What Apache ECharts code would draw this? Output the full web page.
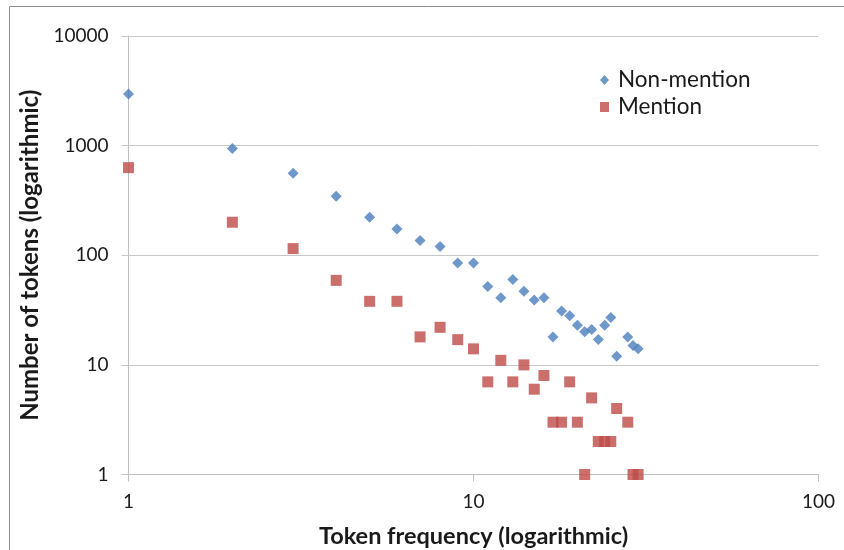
<!DOCTYPE html>
<html>
<head>
<meta charset="utf-8">
<script src="https://cdn.jsdelivr.net/npm/echarts@6/dist/echarts.min.js"></script>
<style>
  html, body { margin: 0; padding: 0; background: #ffffff; }
  #chart { width: 844px; height: 550px; }
</style>
</head>
<body>
<div id="chart"></div>
<script>
// Token frequency (x) against number of tokens (y), both on log scales
const freqNonMention = [1, 2, 3, 4, 5, 6, 7, 8, 9, 10, 11, 12, 13, 14, 15, 16, 17, 18, 19, 20, 21, 22, 23, 24, 25, 26, 28, 29, 30];
const countNonMention = [2950, 940, 560, 345, 222, 174, 136, 120, 85, 85, 52, 41, 60, 47, 39, 41, 18, 31, 28, 23, 20, 21, 17, 23, 27, 12, 18, 15, 14];

const freqMention = [1, 2, 3, 4, 5, 6, 7, 8, 9, 10, 11, 12, 13, 14, 15, 16, 17, 18, 19, 20, 21, 22, 23, 24, 25, 26, 28, 29, 30];
const countMention = [630, 200, 115, 59, 38, 38, 18, 22, 17, 14, 7, 11, 7, 10, 6, 8, 3, 3, 7, 3, 1, 5, 2, 2, 2, 4, 3, 1, 1];

const seriesNames = ['Non-mention', 'Mention'];
const xTickLabels = ['1', '10', '100'];
const yTickLabels = ['1', '10', '100', '1000', '10000'];
const xTitle = 'Token frequency (logarithmic)';
const yTitle = 'Number of tokens (logarithmic)';

const FONT = 'Lato, "Open Sans", sans-serif';
const BLUE = '#4A7EBB';
const RED = '#BE4B48';

function pairs(xs, ys) {
  return xs.map((x, i) => [x, ys[i]]);
}

function tickText(labels) {
  return (v) => {
    const idx = Math.round(Math.log10(v));
    return labels[idx] !== undefined ? labels[idx] : '';
  };
}

const chart = echarts.init(document.getElementById('chart'), null, { renderer: 'canvas' });

chart.setOption({
  animation: false,
  backgroundColor: '#ffffff',
  textStyle: { fontFamily: FONT },
  grid: { left: 128.5, right: 25.5, top: 36, bottom: 75.5, containLabel: false, outerBoundsMode: 'none' },
  graphic: [{
    type: 'rect',
    shape: { x: 9.5, y: 6.5, width: 900, height: 600 },
    style: { fill: 'none', stroke: '#8c8c8c', lineWidth: 1 },
    silent: true
  }],
  legend: {
    orient: 'vertical',
    left: 600,
    top: 68.5,
    padding: 0,
    itemWidth: 9,
    itemHeight: 10,
    itemGap: 4,
    data: [
      { name: seriesNames[0], icon: 'diamond' },
      { name: seriesNames[1], icon: 'rect' }
    ],
    textStyle: { fontFamily: FONT, fontSize: 22.5, color: '#1a1a1a', lineHeight: 23, padding: [0, 0, 0, 4] }
  },
  xAxis: {
    type: 'log',
    logBase: 10,
    min: 1,
    max: 100,
    name: xTitle,
    nameLocation: 'middle',
    nameGap: 50,
    nameTextStyle: { fontFamily: FONT, fontSize: 23.5, fontWeight: 'bold', color: '#1a1a1a' },
    axisLine: { show: true, lineStyle: { color: '#bfbfbf', width: 1 } },
    axisTick: { show: true, length: 7, lineStyle: { color: '#bfbfbf' } },
    axisLabel: { formatter: tickText(xTickLabels), fontFamily: FONT, fontSize: 19, color: '#1a1a1a', margin: 18 },
    splitLine: { show: false },
    minorTick: { show: false }
  },
  yAxis: {
    type: 'log',
    logBase: 10,
    min: 1,
    max: 10000,
    name: yTitle,
    nameLocation: 'middle',
    nameGap: 76,
    nameTextStyle: { fontFamily: FONT, fontSize: 24, fontWeight: 'bold', color: '#1a1a1a' },
    axisLine: { show: true, lineStyle: { color: '#bfbfbf', width: 1 } },
    axisTick: { show: true, length: 7, lineStyle: { color: '#c8c8c8' } },
    axisLabel: { formatter: tickText(yTickLabels), fontFamily: FONT, fontSize: 19, color: '#1a1a1a', margin: 20 },
    splitLine: { show: true, lineStyle: { color: '#c8c8c8', width: 1 } }
  },
  series: [
    {
      name: seriesNames[0],
      type: 'scatter',
      symbol: 'diamond',
      symbolSize: 11,
      itemStyle: { color: BLUE },
      data: pairs(freqNonMention, countNonMention)
    },
    {
      name: seriesNames[1],
      type: 'scatter',
      symbol: 'rect',
      symbolSize: 11,
      itemStyle: { color: RED },
      data: pairs(freqMention, countMention)
    }
  ]
});
</script>
</body>
</html>
